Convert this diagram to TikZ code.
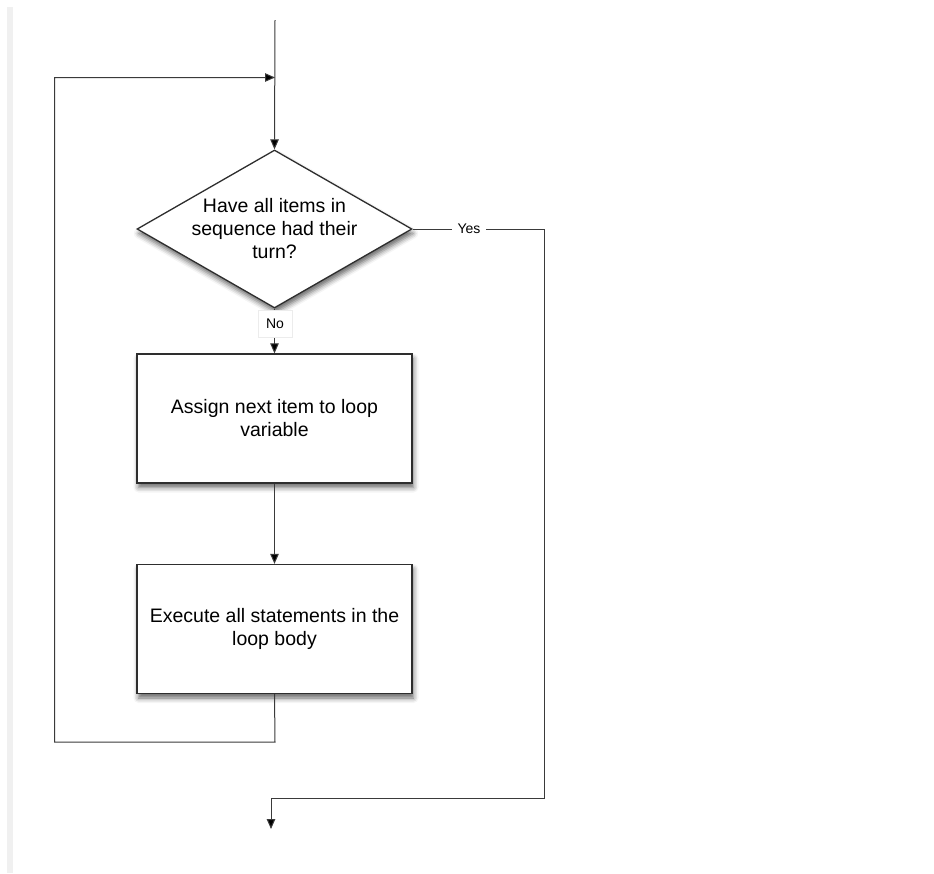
\documentclass[tikz,border=0pt]{standalone}
\usepackage{fontspec}
\setmainfont{Liberation Sans}
\usetikzlibrary{shapes.geometric,shadows.blur,arrows.meta}
\definecolor{linegray}{HTML}{3A3A3A}
\definecolor{boxline}{HTML}{2E2E2E}
\tikzset{
  conn/.style={draw=linegray, line width=1pt},
  arr/.style={conn, -{Triangle[length=10pt,width=8.5pt,fill=black]}},
  shad/.style={blur shadow={shadow xshift=1.5pt, shadow yshift=-4.5pt, shadow blur radius=5pt, shadow opacity=60}},
  procbox/.style={draw=boxline, line width=1.3pt, fill=white, rectangle, minimum width=275pt, minimum height=129pt, inner sep=0pt, align=center, font=\fontsize{19.5}{23}\selectfont, shad},
  decbox/.style={draw=boxline, line width=1.3pt, fill=white, diamond, aspect=1.74, minimum width=275pt, minimum height=158pt, inner sep=0pt, align=center, font=\fontsize{19.5}{23}\selectfont, shad},
  lbl/.style={fill=white, inner xsep=6pt, inner ysep=4pt, font=\fontsize{14}{16}\selectfont}
}
\begin{document}
\begin{tikzpicture}[x=1pt,y=-1pt]
\useasboundingbox (0,0) rectangle (934,873);
\fill[gray!12] (7,7) rectangle (13,873);

\node[decbox] (d) at (274.5,229) {Have all items in\\sequence had their\\turn?};
\node[procbox] (b1) at (274.5,418.5) {Assign next item to loop\\variable};
\node[procbox] (b2) at (274.5,629) {Execute all statements in the\\loop body};

\coordinate (top) at (275,20);
\coordinate (join) at (275,77.5);
\coordinate (loopA) at (275,742);
\coordinate (loopB) at (54.5,742);
\coordinate (loopC) at (54.5,77.5);
\coordinate (yesA) at (544,229);
\coordinate (yesB) at (544,798);
\coordinate (endA) at (271,798);
\coordinate (endB) at (271,829);

\draw[arr] (top) -- (d.north);
\draw[arr] (b2.south) -- (loopA) -- (loopB) -- (loopC) -- (join);
\draw[arr] (d.south) -- (b1.north);
\draw[arr] (b1.south) -- (b2.north);
\draw[arr] (d.east) -- (yesA) -- (yesB) -- (endA) -- (endB);

\node[lbl] (yes) at (469,229) {Yes};
\node[lbl, draw=gray!15, line width=0.6pt, minimum width=34pt, minimum height=27pt] (no) at (275,324) {No};
\end{tikzpicture}
\end{document}
